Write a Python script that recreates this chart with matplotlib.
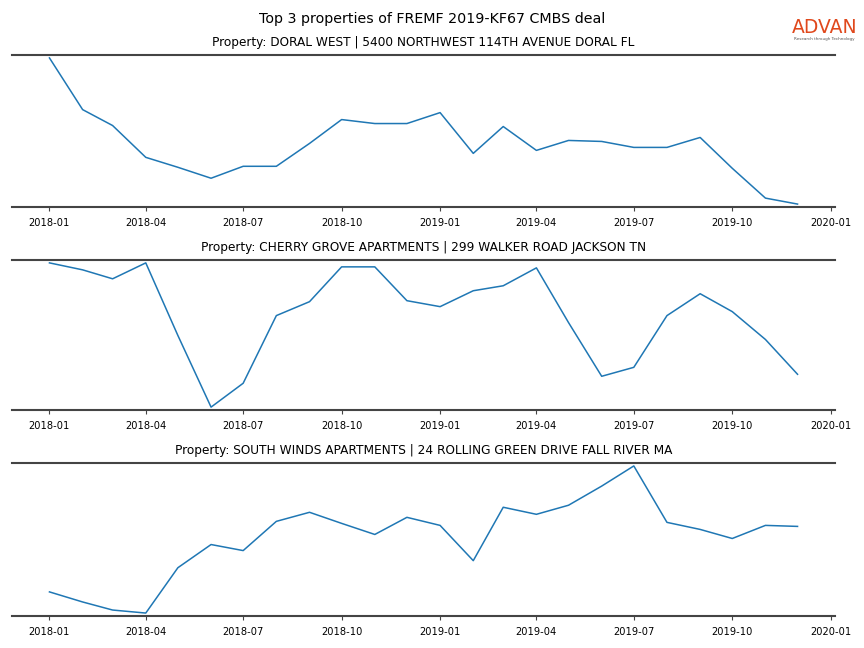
import matplotlib.pyplot as plt
import matplotlib.dates as mdates
import numpy as np
import pandas as pd

months = pd.date_range('2018-01-01', '2019-12-01', freq='MS')

titles = ['Property: DORAL WEST | 5400 NORTHWEST 114TH AVENUE DORAL FL',
          'Property: CHERRY GROVE APARTMENTS | 299 WALKER ROAD JACKSON TN',
          'Property: SOUTH WINDS APARTMENTS | 24 ROLLING GREEN DRIVE FALL RIVER MA']

# monthly visits (arbitrary units)
doral = [149, 97, 81, 49, 39, 28, 40, 40, 63, 87, 83, 83,
         94, 53, 80, 56, 66, 65, 59, 59, 69, 38, 8, 2]
cherry = [147, 140, 131, 147, 74, 2, 26, 94, 108, 143, 143, 109,
          103, 119, 124, 142, 87, 33, 42, 94, 116, 98, 70, 35]
south = [24, 14, 6, 3, 48, 71, 65, 94, 103, 92, 81, 98,
         90, 55, 108, 101, 110, 129, 149, 93, 86, 77, 90, 89]
series = [doral, cherry, south]

fig = plt.figure(figsize=(8.64, 6.48), dpi=100)
fig.suptitle('Top 3 properties of FREMF 2019-KF67 CMBS deal', fontsize=10.3, y=0.982)

tops = [55, 260, 463]
bottoms = [207, 410, 616]
for i in range(3):
    ax = fig.add_axes([12/864, 1 - bottoms[i]/648, 823/864, (bottoms[i] - tops[i])/648])
    ax.plot(months, series[i], color='#1f77b4', linewidth=1.1)
    ax.margins(y=0.02)
    ax.set_title(titles[i], fontsize=8.7, pad=6.5)
    for s in ['left', 'right']:
        ax.spines[s].set_visible(False)
    for s in ['top', 'bottom']:
        ax.spines[s].set_color('#444444')
        ax.spines[s].set_linewidth(1.5)
    ax.set_yticks([])
    ax.xaxis.set_major_locator(mdates.MonthLocator(bymonth=[1, 4, 7, 10]))
    ax.xaxis.set_major_formatter(mdates.DateFormatter('%Y-%m'))
    ax.set_xlim(pd.Timestamp('2017-11-27'), pd.Timestamp('2020-01-05'))
    ax.tick_params(axis='x', labelsize=7.1, length=3, width=0.8, color='#444444', pad=5)

# logo
fig.text(0.9545, 0.957, 'ADVAN', color='#e0481c', fontsize=13.5, ha='center', va='center')
fig.text(0.9545, 0.940, 'Research through Technology', color='#555555', fontsize=3, ha='center', va='center')

fig.savefig('out.png', dpi=100)
